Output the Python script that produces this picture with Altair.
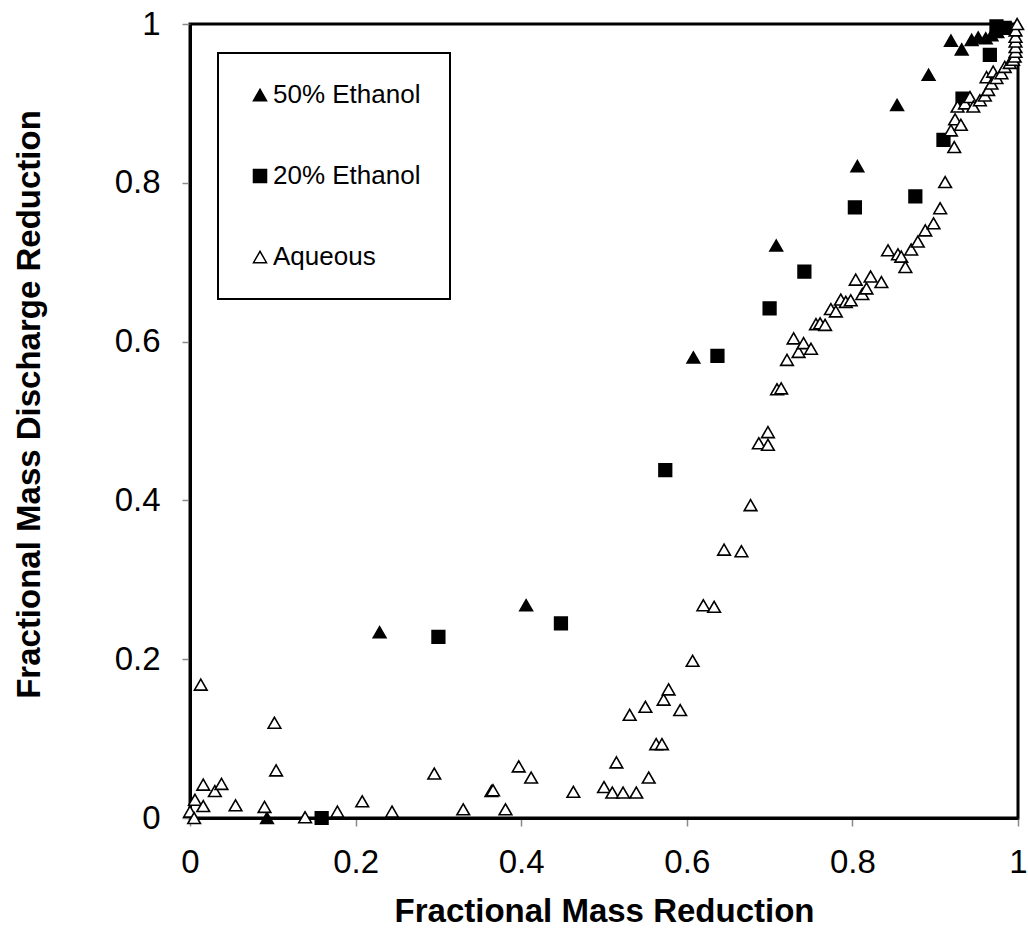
import altair as alt
import pandas as pd

# Series names (legend order)
SERIES = ["50% Ethanol", "20% Ethanol", "Aqueous"]

# Axis ticks
X_TICKS = [0, 0.2, 0.4, 0.6, 0.8, 1]
Y_TICKS = [0, 0.2, 0.4, 0.6, 0.8, 1]

# 50% ethanol flush
ETH50_X = [0.093, 0.229, 0.406, 0.608, 0.708, 0.806, 0.854, 0.892, 0.919,
           0.932, 0.944, 0.952, 0.961, 0.968, 0.975]
ETH50_Y = [0.000, 0.234, 0.268, 0.580, 0.721, 0.821, 0.898, 0.936, 0.979,
           0.968, 0.980, 0.983, 0.982, 0.986, 0.990]

# 20% ethanol flush
ETH20_X = [0.159, 0.300, 0.448, 0.574, 0.637, 0.700, 0.742, 0.803, 0.876,
           0.910, 0.933, 0.966, 0.974, 0.984]
ETH20_Y = [0.000, 0.228, 0.245, 0.438, 0.582, 0.642, 0.688, 0.769, 0.783,
           0.854, 0.906, 0.961, 0.997, 0.995]

# Aqueous flush
AQ_X = [0.000, 0.005, 0.006, 0.013, 0.016, 0.016, 0.030, 0.038, 0.055, 0.090,
        0.102, 0.104, 0.139, 0.178, 0.208, 0.244, 0.295, 0.330, 0.364, 0.366,
        0.381, 0.397, 0.412, 0.463, 0.500, 0.510, 0.515, 0.523, 0.531, 0.539,
        0.550, 0.554, 0.563, 0.570, 0.572, 0.578, 0.592, 0.607, 0.620, 0.633,
        0.645, 0.666, 0.677, 0.687, 0.698, 0.698, 0.709, 0.714, 0.721, 0.729,
        0.735, 0.741, 0.750, 0.756, 0.761, 0.767, 0.774, 0.780, 0.786, 0.792,
        0.798, 0.804, 0.812, 0.817, 0.822, 0.835, 0.843, 0.855, 0.859, 0.864,
        0.871, 0.879, 0.888, 0.898, 0.906, 0.912, 0.919, 0.923, 0.924, 0.927,
        0.931, 0.936, 0.942, 0.946, 0.954, 0.960, 0.962, 0.964, 0.968, 0.970,
        0.974, 0.980, 0.984, 0.990, 0.994, 0.996, 0.997, 0.997, 0.997, 0.997,
        0.997, 0.999]
AQ_Y = [0.008, 0.000, 0.023, 0.168, 0.015, 0.042, 0.034, 0.043, 0.016, 0.014,
        0.120, 0.060, 0.001, 0.008, 0.021, 0.008, 0.056, 0.011, 0.034, 0.035,
        0.011, 0.065, 0.051, 0.033, 0.039, 0.032, 0.070, 0.032, 0.130, 0.032,
        0.140, 0.051, 0.093, 0.093, 0.149, 0.162, 0.136, 0.198, 0.268, 0.266,
        0.338, 0.336, 0.394, 0.472, 0.470, 0.486, 0.540, 0.541, 0.577, 0.604,
        0.587, 0.598, 0.591, 0.622, 0.623, 0.621, 0.641, 0.638, 0.653, 0.650,
        0.652, 0.678, 0.660, 0.667, 0.682, 0.675, 0.715, 0.710, 0.707, 0.694,
        0.716, 0.726, 0.740, 0.749, 0.768, 0.801, 0.866, 0.845, 0.880, 0.896,
        0.873, 0.900, 0.908, 0.896, 0.904, 0.910, 0.933, 0.917, 0.925, 0.940,
        0.932, 0.938, 0.946, 0.951, 0.955, 0.959, 0.965, 0.971, 0.978, 0.984,
        0.992, 1.000]

frames = []
for name, xs, ys in [(SERIES[0], ETH50_X, ETH50_Y),
                     (SERIES[1], ETH20_X, ETH20_Y),
                     (SERIES[2], AQ_X, AQ_Y)]:
    frames.append(pd.DataFrame({"x": xs, "y": ys, "series": name}))
df = pd.concat(frames, ignore_index=True)

FONT = "Liberation Sans"

legend = alt.Legend(
    title=None,
    orient="none",
    legendX=28,
    legendY=29,
    padding=29,
    rowPadding=55,
    labelFontSize=26,
    labelFont=FONT,
    labelColor="black",
    labelOffset=0,
    symbolSize=170,
    symbolStrokeColor="black",
    symbolStrokeWidth=1.5,
    strokeColor="black",
)

chart = (
    alt.Chart(df)
    .mark_point(filled=True, size=160, strokeWidth=1.6, opacity=1)
    .encode(
        x=alt.X(
            "x:Q",
            title="Fractional Mass Reduction",
            scale=alt.Scale(domain=[0, 1], nice=False, zero=False),
            axis=alt.Axis(values=X_TICKS, format="~g", labelPadding=20,
                          labelFlush=False, titlePadding=16),
        ),
        y=alt.Y(
            "y:Q",
            title="Fractional Mass Discharge Reduction",
            scale=alt.Scale(domain=[0, 1], nice=False, zero=False),
            axis=alt.Axis(values=Y_TICKS, format="~g", labelPadding=22,
                          labelFlush=False, titlePadding=68, titleY=380),
        ),
        shape=alt.Shape(
            "series:N",
            scale=alt.Scale(domain=SERIES,
                            range=["triangle-up", "square", "triangle-up"]),
            legend=legend,
        ),
        fill=alt.Fill(
            "series:N",
            scale=alt.Scale(domain=SERIES, range=["black", "black", "white"]),
            legend=legend,
        ),
        stroke=alt.Stroke(
            "series:N",
            scale=alt.Scale(domain=SERIES, range=["black", "black", "black"]),
            legend=legend,
        ),
        order=alt.Order("idx:Q"),
    )
    .transform_window(idx="row_number()")
    .properties(
        width=828,
        height=794,
        autosize=alt.AutoSizeParams(type="none"),
        padding={"left": 190, "top": 24, "right": 10, "bottom": 113},
    )
    .configure_view(stroke="black", strokeWidth=3)
    .configure_axis(
        grid=False,
        domainColor="black",
        domainWidth=3,
        tickColor="#8a8a8a",
        tickWidth=1.5,
        tickSize=8,
        labelFont=FONT,
        labelFontSize=33,
        labelColor="black",
        titleFont=FONT,
        titleFontSize=33,
        titleFontWeight="bold",
        titleColor="black",
    )
    .configure_legend(strokeWidth=2)
)

chart.save("out.html", embed_options={"renderer": "svg", "actions": False})
